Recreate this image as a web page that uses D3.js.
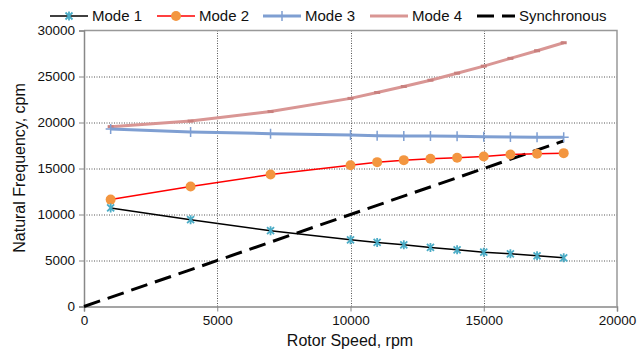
<!DOCTYPE html>
<html>
<head>
<meta charset="utf-8">
<script src="https://d3js.org/d3.v7.min.js"></script>
<style>
  body { margin: 0; background: #fff; }
  text { font-family: "Liberation Sans", Arial, sans-serif; }
</style>
</head>
<body>
<div id="chart"></div>
<script>
// rotor speed points, rpm
let speeds = [1000, 4000, 7000, 10000, 11000, 12000, 13000, 14000, 15000, 16000, 17000, 18000];
// natural frequencies, cpm
let mode1 = [10710, 9440, 8240, 7250, 6960, 6710, 6420, 6160, 5910, 5730, 5510, 5290];
let mode2 = [11620, 13040, 14350, 15360, 15690, 15910, 16060, 16170, 16310, 16530, 16600, 16670];
let mode3 = [19300, 18960, 18790, 18630, 18560, 18540, 18520, 18500, 18460, 18420, 18400, 18390];
let mode4 = [19550, 20160, 21190, 22620, 23260, 23910, 24600, 25360, 26130, 26970, 27800, 28670];
let syncSpeeds = [0, 18000];
let xTicks = [0, 5000, 10000, 15000, 20000];
let yTicks = [0, 5000, 10000, 15000, 20000, 25000, 30000];

let svgWidth = 639, svgHeight = 352;
let margin = { top: 30.5, right: 22, bottom: 45.5, left: 84 };
let width = svgWidth - margin.left - margin.right;
let height = svgHeight - margin.top - margin.bottom;

let svg = d3.select("#chart").append("svg")
  .attr("width", svgWidth)
  .attr("height", svgHeight);

let g = svg.append("g")
  .attr("transform", `translate(${margin.left},${margin.top})`);

let x = d3.scaleLinear().domain([0, 20000]).range([0, width]);
let y = d3.scaleLinear().domain([0, 30000]).range([height, 0]);

// dotted gridlines
g.append("g").selectAll("line.gy")
  .data(yTicks.slice(1, -1))
  .enter().append("line")
  .attr("x1", 0).attr("x2", width)
  .attr("y1", d => Math.round(y(d)) + 0.5).attr("y2", d => Math.round(y(d)) + 0.5)
  .attr("stroke", "#555").attr("stroke-width", 1).attr("stroke-dasharray", "1,1.5");
g.append("g").selectAll("line.gx")
  .data(xTicks.slice(1, -1))
  .enter().append("line")
  .attr("y1", 0).attr("y2", height)
  .attr("x1", d => Math.round(x(d)) + 0.5).attr("x2", d => Math.round(x(d)) + 0.5)
  .attr("stroke", "#555").attr("stroke-width", 1).attr("stroke-dasharray", "1,1.5");

// plot border (top/right)
g.append("path")
  .attr("d", `M0,0H${width}V${height}`)
  .attr("fill", "none").attr("stroke", "#999").attr("stroke-width", 1.5);

// axes
let xAxis = g.append("g")
  .attr("transform", `translate(0,${height})`)
  .call(d3.axisBottom(x).tickValues(xTicks).tickFormat(d3.format("d")).tickSize(5).tickPadding(4));
let yAxis = g.append("g")
  .call(d3.axisLeft(y).tickValues(yTicks).tickFormat(d3.format("d")).tickSize(5).tickPadding(4));
[xAxis, yAxis].forEach(a => {
  a.select(".domain").attr("stroke", "#888").attr("stroke-width", 1.5);
  a.selectAll(".tick line").attr("stroke", "#888");
  a.selectAll("text").attr("font-size", 13.5).attr("fill", "#111")
    .attr("font-family", "Liberation Sans, Arial, sans-serif");
});

let line = d3.line()
  .x(d => x(d[0]))
  .y(d => y(d[1]));

function pts(vals) { return speeds.map((s, i) => [s, vals[i]]); }

// synchronous line
g.append("path")
  .datum(syncSpeeds.map(s => [s, s]))
  .attr("d", line)
  .attr("fill", "none").attr("stroke", "#000").attr("stroke-width", 3)
  .attr("stroke-dasharray", "17,8");

// mode 4
g.append("path").datum(pts(mode4)).attr("d", line)
  .attr("fill", "none").attr("stroke", "#d99694").attr("stroke-width", 3);
g.selectAll(".m4").data(pts(mode4)).enter().append("line")
  .attr("x1", d => x(d[0]) - 3).attr("x2", d => x(d[0]) + 3)
  .attr("y1", d => y(d[1])).attr("y2", d => y(d[1]))
  .attr("stroke", "#c9807e").attr("stroke-width", 3);

// mode 3
g.append("path").datum(pts(mode3)).attr("d", line)
  .attr("fill", "none").attr("stroke", "#7f9fd2").attr("stroke-width", 3);
g.selectAll(".m3").data(pts(mode3)).enter().append("path")
  .attr("d", d => `M${x(d[0])},${y(d[1]) - 5}v10M${x(d[0]) - 5},${y(d[1])}h10`)
  .attr("stroke", "#7f9fd2").attr("stroke-width", 1.5);

// mode 2
g.append("path").datum(pts(mode2)).attr("d", line)
  .attr("fill", "none").attr("stroke", "#ff0000").attr("stroke-width", 1.5);
g.selectAll(".m2").data(pts(mode2)).enter().append("circle")
  .attr("cx", d => x(d[0])).attr("cy", d => y(d[1])).attr("r", 5)
  .attr("fill", "#f39640");

// mode 1
g.append("path").datum(pts(mode1)).attr("d", line)
  .attr("fill", "none").attr("stroke", "#000").attr("stroke-width", 1.5);
function star(cx, cy, r) {
  return `M${cx - r},${cy - r}L${cx + r},${cy + r}M${cx - r},${cy + r}L${cx + r},${cy - r}` +
    `M${cx},${cy - r - 1}v${2 * r + 2}`;
}
g.selectAll(".m1").data(pts(mode1)).enter().append("path")
  .attr("d", d => star(x(d[0]), y(d[1]), 3.5))
  .attr("stroke", "#4bacc6").attr("stroke-width", 1.8).attr("fill", "none");

// axis titles
svg.append("text")
  .attr("x", 350).attr("y", 346)
  .attr("text-anchor", "middle").attr("font-size", 16).attr("fill", "#111")
  .text("Rotor Speed, rpm");
svg.append("text")
  .attr("transform", "translate(25,168) rotate(-90)")
  .attr("text-anchor", "middle").attr("font-size", 16).attr("fill", "#111")
  .text("Natural Frequency, cpm");

// legend
let legend = [
  { name: "Mode 1", x: 50, stroke: "#000", w: 1.5 },
  { name: "Mode 2", x: 157, stroke: "#ff0000", w: 1.5 },
  { name: "Mode 3", x: 263, stroke: "#7f9fd2", w: 3 },
  { name: "Mode 4", x: 370, stroke: "#d99694", w: 3 },
  { name: "Synchronous", x: 477, stroke: "#000", w: 3 }
];
let lg = svg.append("g");
legend.forEach((d, i) => {
  let ly = 16;
  let item = lg.append("g");
  if (i === 4) {
    item.append("line").attr("x1", d.x).attr("x2", d.x + 38).attr("y1", ly).attr("y2", ly)
      .attr("stroke", d.stroke).attr("stroke-width", d.w).attr("stroke-dasharray", "17,8");
  } else {
    item.append("line").attr("x1", d.x).attr("x2", d.x + 38).attr("y1", ly).attr("y2", ly)
      .attr("stroke", d.stroke).attr("stroke-width", d.w);
  }
  let cx = d.x + 19;
  if (i === 0) item.append("path").attr("d", star(cx, ly, 3.5)).attr("stroke", "#4bacc6").attr("stroke-width", 1.8).attr("fill", "none");
  if (i === 1) item.append("circle").attr("cx", cx).attr("cy", ly).attr("r", 5).attr("fill", "#f39640");
  if (i === 2) item.append("path").attr("d", `M${cx},${ly - 5}v10`).attr("stroke", "#7f9fd2").attr("stroke-width", 1.5);
  item.append("text").attr("x", d.x + 42).attr("y", ly + 5)
    .attr("font-size", 15).attr("fill", "#111").text(d.name);
});
</script>
</body>
</html>
